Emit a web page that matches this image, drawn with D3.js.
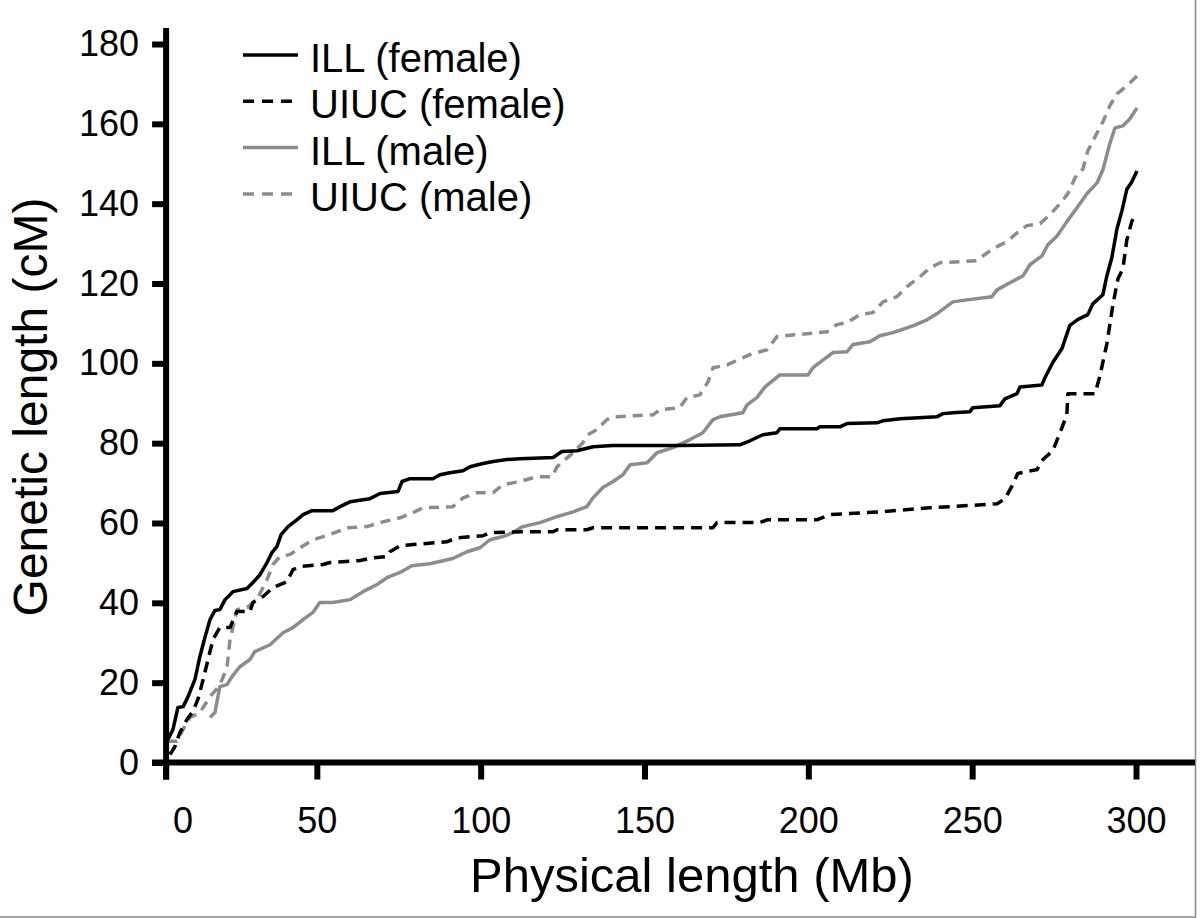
<!DOCTYPE html>
<html>
<head>
<meta charset="utf-8">
<script src="https://cdn.jsdelivr.net/npm/d3@7"></script>
<style>
  html, body { margin: 0; padding: 0; background: #fff; }
  svg { display: block; font-family: "Liberation Sans", Arial, sans-serif; }
</style>
</head>
<body>
<svg id="chart" width="1200" height="918"></svg>
<script>
// ---------------- DATA ----------------
const xTicks = [0, 50, 100, 150, 200, 250, 300];
const yTicks = [0, 20, 40, 60, 80, 100, 120, 140, 160, 180];
const seriesNames = ["ILL (female)", "UIUC (female)", "ILL (male)", "UIUC (male)"];

const illFemaleMb = [4.6,6.1,7.6,9.2,10.7,12.8,14.3,15.9,17.4,18.9,20.4,22.0,24.4,28.7,30.5,32.7,34.8,36.3,37.8,39.1,41.2,43.9,45.8,48.5,54.9,57.1,60.1,66.2,69.3,74.8,76.0,78.4,85.4,87.6,90.6,94.6,96.7,100.7,103.8,108.0,112.0,122.1,124.8,129.4,134.3,140.4,160.8,179.1,182.2,186.1,190.4,191.3,202.6,203.5,209.6,211.8,220.9,222.8,228.0,239.2,241.1,244.1,249.3,250.2,258.5,260.0,263.7,264.6,271.3,272.2,274.6,277.4,279.8,282.3,285.3,286.8,289.9,291.1,292.6,294.2,295.7,297.2,298.7,300.3];
const illFemaleCM = [5.8,8.3,13.8,14.0,16.5,20.8,26.5,31.5,35.8,38.1,38.3,40.8,42.8,43.6,45.1,47.1,50.1,52.6,54.1,57.1,59.1,60.8,62.1,63.1,63.1,64.1,65.3,66.1,67.4,67.9,70.4,71.1,71.1,72.1,72.6,73.1,74.1,74.9,75.4,75.9,76.1,76.4,77.9,78.1,79.1,79.4,79.4,79.6,80.6,82.1,82.6,83.6,83.6,84.1,84.1,84.9,85.1,85.6,86.1,86.6,87.4,87.6,87.9,88.9,89.4,91.1,92.4,94.1,94.6,96.4,100.2,103.7,109.5,111.0,112.2,114.9,117.2,121.9,126.4,133.7,138.2,143.6,145.4,148.2];

const uiucFemaleMb = [5.2,6.7,8.2,10.4,12.2,13.7,15.3,16.8,18.3,20.4,23.5,25.6,29.6,30.5,33.6,36.6,40.9,42.7,44.9,51.9,54.0,63.2,67.1,71.4,72.3,75.4,89.7,92.8,100.7,102.8,112.9,122.1,123.3,132.4,134.3,170.9,172.1,185.2,187.4,202.6,206.6,221.8,237.1,257.6,260.0,262.4,263.9,269.8,271.6,274.6,276.8,278.9,279.2,287.5,289.0,291.1,293.0,294.5,296.0,297.2,298.7,299.7];
const uiucFemaleCM = [2.0,4.0,7.5,10.8,12.8,15.8,20.8,25.8,30.8,33.8,33.8,37.8,37.8,40.1,41.6,43.8,45.3,48.3,49.1,49.6,50.1,50.6,51.3,51.6,52.8,54.3,55.3,56.3,56.8,57.6,57.8,57.8,58.3,58.3,58.8,58.8,60.1,60.1,60.8,60.8,62.1,62.8,63.8,64.8,66.1,69.6,72.4,73.4,75.9,78.1,82.6,87.1,92.4,92.4,96.9,104.9,114.9,121.2,123.7,130.9,135.5,137.3];

const illMaleMb = [17.4,18.9,20.4,22.6,24.1,26.5,29.6,31.1,35.7,39.7,42.7,45.8,48.8,50.9,54.9,60.1,64.1,68.4,71.4,75.4,79.0,84.5,91.5,95.8,99.8,102.8,106.8,109.9,112.9,118.1,123.3,128.2,132.4,134.3,137.3,140.4,143.4,145.6,150.8,153.8,158.7,163.9,167.8,170.9,173.0,180.0,181.3,184.3,186.8,191.3,199.9,201.4,207.5,211.8,213.6,218.8,221.8,225.8,231.9,236.2,239.2,244.1,248.4,256.0,257.6,261.5,265.5,267.6,271.3,273.1,275.9,278.9,282.0,285.0,288.1,289.9,292.0,293.6,296.0,298.1,300.3];
const illMaleCM = [11.3,12.5,19.0,19.5,21.5,24.0,25.8,27.8,29.5,32.5,33.8,35.8,37.6,40.1,40.1,40.8,42.8,44.6,46.3,47.6,49.3,49.8,51.1,52.8,53.8,55.8,56.6,57.6,59.1,60.1,61.6,62.8,64.1,66.3,68.9,70.4,72.1,74.6,75.1,77.6,78.9,80.9,82.6,85.9,86.6,87.6,89.6,91.4,94.1,97.1,97.1,98.9,102.7,102.9,104.7,105.4,106.9,107.7,109.4,110.9,112.4,115.4,115.9,116.7,118.4,120.2,121.9,124.7,126.9,129.7,131.9,135.5,139.0,142.5,145.2,148.5,155.0,159.0,159.5,161.2,164.0];

const uiucMaleMb = [4.3,7.3,9.2,11.3,14.3,17.4,19.8,21.1,22.6,23.5,25.6,28.7,31.7,34.8,36.6,38.8,41.8,44.9,48.8,54.0,59.2,65.3,70.2,75.4,79.3,82.4,91.5,94.6,98.9,103.8,106.8,112.0,117.2,121.8,123.3,125.1,128.2,131.2,132.7,135.5,138.5,140.4,152.6,154.7,160.8,162.9,166.9,169.4,170.9,175.2,182.2,187.4,190.4,205.7,208.7,211.8,215.7,219.7,222.8,227.0,230.1,234.1,237.1,240.2,251.4,253.3,256.3,260.6,263.7,266.7,270.7,273.7,276.8,279.2,281.4,283.8,285.3,288.1,289.9,292.0,294.2,297.2,300.3];
const uiucMaleCM = [5.3,5.3,8.3,11.3,12.5,16.5,18.8,20.8,24.0,30.8,38.3,38.8,40.8,45.8,49.6,51.6,52.1,53.8,55.8,57.1,58.8,59.1,60.3,61.3,62.6,63.8,64.1,66.3,67.6,67.6,69.6,70.4,71.6,71.6,74.1,75.4,77.6,80.1,82.1,83.4,85.9,86.6,87.1,88.4,88.9,91.4,92.1,95.4,98.9,99.6,102.2,103.4,106.7,107.9,109.7,110.2,112.2,112.7,115.4,116.7,119.2,121.7,123.9,125.2,125.7,126.9,128.7,130.5,132.7,134.5,135.0,137.2,140.0,142.5,146.5,148.7,153.2,157.7,160.5,164.5,167.5,169.5,172.0];

const Y_AXIS_AT_MB = 4;   // value of x where the vertical axis crosses

// ---------------- STYLE ----------------
const BLACK = "#000", GRAY = "#8c8c8c";
const seriesStyles = [
  { color: BLACK, dash: null },
  { color: BLACK, dash: "11,7" },
  { color: GRAY,  dash: null },
  { color: GRAY,  dash: "10,7" }
];

const svg = d3.select("#chart");
const x = d3.scaleLinear().domain([0, 300]).range([153, 1136]);
const y = d3.scaleLinear().domain([0, 180]).range([762.5, 44]);

const zip = (a, b) => a.map((v, i) => [v, b[i]]);
const series = [
  zip(illFemaleMb, illFemaleCM),
  zip(uiucFemaleMb, uiucFemaleCM),
  zip(illMaleMb, illMaleCM),
  zip(uiucMaleMb, uiucMaleCM)
];

// gray frame edges (right & bottom) of the original picture
svg.append("line").attr("x1", 1195.5).attr("x2", 1195.5).attr("y1", 0).attr("y2", 918)
  .attr("stroke", "#888").attr("stroke-width", 1.5);
svg.append("line").attr("x1", 0).attr("x2", 1196).attr("y1", 917).attr("y2", 917)
  .attr("stroke", "#888").attr("stroke-width", 1.5);

// ---------------- CURVES ----------------
const line = d3.line().x(d => x(d[0])).y(d => y(d[1]));
// draw gray first, black on top
[2, 3, 0, 1].forEach(i => {
  svg.append("path")
    .datum(series[i])
    .attr("d", line)
    .attr("fill", "none")
    .attr("stroke", seriesStyles[i].color)
    .attr("stroke-width", 3.5)
    .attr("stroke-dasharray", seriesStyles[i].dash)
    .attr("stroke-linejoin", "round");
});

// ---------------- AXES ----------------
const axisX0 = x(Y_AXIS_AT_MB);

const gx = svg.append("g")
  .attr("transform", `translate(0,${y(0)})`)
  .call(d3.axisBottom(x).tickValues(xTicks).tickSize(17).tickPadding(28).tickFormat(d3.format("d")));
gx.select(".domain").remove();
gx.selectAll(".tick line").attr("stroke", BLACK).attr("stroke-width", 6);
gx.selectAll(".tick text").attr("font-size", 36).attr("fill", BLACK)
  .attr("font-family", "'Liberation Sans', Arial, sans-serif");
// the 0 tick coincides with the vertical axis
gx.selectAll(".tick").filter(d => d === 0)
  .attr("transform", `translate(${axisX0},0)`)
  .select("text").attr("x", 17);
gx.append("line").attr("x1", axisX0 - 14).attr("x2", 1195).attr("y1", 0).attr("y2", 0)
  .attr("stroke", BLACK).attr("stroke-width", 6);

const gy = svg.append("g")
  .attr("transform", `translate(${axisX0},0)`)
  .call(d3.axisLeft(y).tickValues(yTicks).tickSize(14).tickPadding(13).tickFormat(d3.format("d")));
gy.select(".domain").remove();
gy.selectAll(".tick line").attr("stroke", BLACK).attr("stroke-width", 6);
gy.selectAll(".tick text").attr("font-size", 36).attr("fill", BLACK)
  .attr("font-family", "'Liberation Sans', Arial, sans-serif");
gy.append("line").attr("x1", 0).attr("x2", 0).attr("y1", y(180) - 16).attr("y2", y(0) + 17)
  .attr("stroke", BLACK).attr("stroke-width", 6);

// ---------------- TITLES ----------------
svg.append("text")
  .attr("x", 692).attr("y", 892)
  .attr("text-anchor", "middle")
  .attr("font-size", 49)
  .text("Physical length (Mb)");

svg.append("text")
  .attr("transform", "translate(47,407) rotate(-90)")
  .attr("text-anchor", "middle")
  .attr("font-size", 48)
  .text("Genetic length (cM)");

// ---------------- LEGEND ----------------
const legend = svg.append("g").attr("transform", "translate(243,55)");
seriesNames.forEach((name, i) => {
  const row = legend.append("g").attr("transform", `translate(0,${i * 46.3})`);
  row.append("line").attr("x1", 0).attr("x2", 55).attr("y1", 0).attr("y2", 0)
    .attr("stroke", seriesStyles[i].color).attr("stroke-width", 3.5)
    .attr("stroke-dasharray", seriesStyles[i].dash ? "11,8" : null);
  row.append("text").attr("x", 67).attr("y", 17).attr("font-size", 40).text(name);
});
</script>
</body>
</html>
